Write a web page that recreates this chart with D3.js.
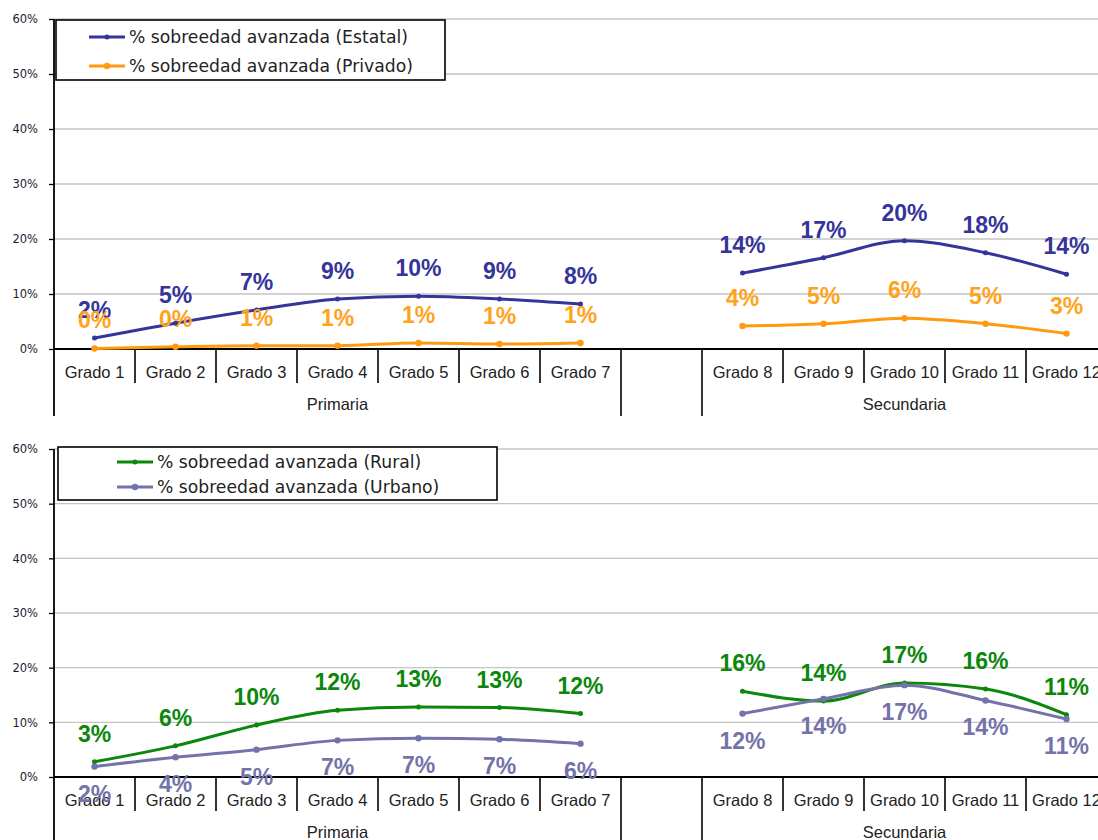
<!DOCTYPE html>
<html>
<head>
<meta charset="utf-8">
<script src="https://cdn.jsdelivr.net/npm/d3@7"></script>
<style>
  html, body { margin: 0; padding: 0; background: #fff; }
  svg { display: block; }
</style>
</head>
<body>
<svg id="chart" width="1098" height="840"></svg>
<script>
// ---------- DATA ----------
const categories = ["Grado 1","Grado 2","Grado 3","Grado 4","Grado 5","Grado 6","Grado 7","",
                    "Grado 8","Grado 9","Grado 10","Grado 11","Grado 12"];
const groupNames = ["Primaria", "", "Secundaria"];
const groupOfCategory = [0,0,0,0,0,0,0,1,2,2,2,2,2];
const yTicks = [0, 10, 20, 30, 40, 50, 60];

const estatal = [2.0, 4.7, 7.1, 9.1, 9.6, 9.1, 8.2, null, 13.8, 16.6, 19.7, 17.5, 13.6];
const privado = [0.1, 0.4, 0.6, 0.6, 1.1, 0.9, 1.1, null, 4.2, 4.6, 5.6, 4.6, 2.8];
const rural   = [2.8, 5.7, 9.5, 12.2, 12.8, 12.7, 11.6, null, 15.7, 13.9, 17.2, 16.1, 11.4];
const urbano  = [1.9, 3.6, 5.0, 6.7, 7.1, 6.9, 6.1, null, 11.6, 14.3, 16.8, 14.0, 10.6];

const seriesNamesTop = ["% sobreedad avanzada (Estatal)", "% sobreedad avanzada (Privado)"];
const seriesNamesBottom = ["% sobreedad avanzada (Rural)", "% sobreedad avanzada (Urbano)"];

// ---------- DRAW ----------
const svg = d3.select("#chart");
const x = d3.scaleBand().domain(categories.map((c, i) => i)).range([54, 1107]).padding(0);

function drawPanel(opt) {
  const g = svg.append("g");
  const y = d3.scaleLinear().domain([0, 60]).range([opt.y0, opt.y1]);

  // gridlines
  g.selectAll("line.grid").data(yTicks.filter(t => t > 0)).join("line")
    .attr("x1", 54).attr("x2", 1107)
    .attr("y1", d => y(d)).attr("y2", d => y(d))
    .attr("stroke", "#c4c4c4").attr("stroke-width", 1.3);

  // y axis
  const yAxis = d3.axisLeft(y).tickValues(yTicks).tickFormat(d => d + "%").tickSize(5).tickSizeOuter(0);
  const ya = g.append("g").attr("transform", "translate(54,0)").call(yAxis);
  ya.select(".domain").remove();
  ya.selectAll(".tick line").attr("stroke", "#000").attr("stroke-width", 1.3);
  ya.selectAll(".tick text").attr("x", -16)
    .attr("font-family", "DejaVu Sans, Verdana, sans-serif").attr("font-size", 11.5)
    .attr("fill", "#1c1c30");
  g.append("line").attr("x1", 54).attr("x2", 54)
    .attr("y1", opt.y1).attr("y2", opt.y0 + 67)
    .attr("stroke", "#000").attr("stroke-width", 1.8);

  // x axis baseline
  g.append("line").attr("x1", 54).attr("x2", 1107)
    .attr("y1", opt.y0).attr("y2", opt.y0)
    .attr("stroke", "#000").attr("stroke-width", 1.8);

  // category separators
  const bounds = d3.range(1, categories.length + 1);
  g.selectAll("line.sep").data(bounds).join("line")
    .attr("x1", i => 54 + i * x.bandwidth()).attr("x2", i => 54 + i * x.bandwidth())
    .attr("y1", opt.y0)
    .attr("y2", i => (i === categories.length || groupOfCategory[i] !== groupOfCategory[i - 1]) ? opt.y0 + 67 : opt.y0 + 34)
    .attr("stroke", "#000").attr("stroke-width", 1.6);

  // category labels
  g.selectAll("text.cat").data(categories).join("text")
    .attr("x", (d, i) => x(i) + x.bandwidth() / 2)
    .attr("y", opt.y0 + 29)
    .attr("text-anchor", "middle")
    .attr("font-family", "Liberation Sans, Arial, sans-serif").attr("font-size", 16.5)
    .attr("fill", "#222").text(d => d);

  // group labels
  groupNames.forEach((name, gi) => {
    const idx = groupOfCategory.map((v, i) => v === gi ? i : -1).filter(i => i >= 0);
    const cx = (x(idx[0]) + x(idx[idx.length - 1]) + x.bandwidth()) / 2;
    g.append("text").attr("x", cx).attr("y", opt.y0 + 61)
      .attr("text-anchor", "middle")
      .attr("font-family", "Liberation Sans, Arial, sans-serif").attr("font-size", 16.5)
      .attr("fill", "#222").text(name);
  });

  // lines
  opt.series.forEach(s => {
    const line = d3.line()
      .defined(d => d != null)
      .x((d, i) => x(i) + x.bandwidth() / 2)
      .y(d => y(d))
      .curve(d3.curveMonotoneX);
    g.append("path").datum(s.values)
      .attr("fill", "none").attr("stroke", s.color).attr("stroke-width", 3)
      .attr("stroke-linejoin", "round")
      .attr("d", line);
    g.selectAll(null).data(s.values.map((v, i) => ({ v, i })).filter(d => d.v != null)).join("circle")
      .attr("cx", d => x(d.i) + x.bandwidth() / 2).attr("cy", d => y(d.v))
      .attr("r", s.r).attr("fill", s.color);
  });

  // data labels (drawn after lines)
  opt.series.forEach(s => {
    g.selectAll(null).data(s.values.map((v, i) => ({ v, i })).filter(d => d.v != null)).join("text")
      .attr("x", d => x(d.i) + x.bandwidth() / 2)
      .attr("y", d => y(d.v) + (s.below ? 35 : -20))
      .attr("text-anchor", "middle")
      .attr("font-family", "Liberation Sans, Arial, sans-serif").attr("font-size", 23)
      .attr("font-weight", "bold")
      .attr("fill", s.labelColor || s.color)
      .text(d => Math.round(d.v) + "%");
  });

  // legend
  const lg = g.append("g");
  lg.append("rect").attr("x", opt.legend.x).attr("y", opt.legend.y)
    .attr("width", opt.legend.w).attr("height", opt.legend.h)
    .attr("fill", "#fff").attr("stroke", "#000").attr("stroke-width", 1.6);
  opt.series.forEach((s, k) => {
    const ly = opt.legend.rows[k];
    lg.append("line").attr("x1", opt.legend.sx).attr("x2", opt.legend.sx + 36)
      .attr("y1", ly).attr("y2", ly).attr("stroke", s.color).attr("stroke-width", 3);
    lg.append("circle").attr("cx", opt.legend.sx + 18).attr("cy", ly).attr("r", s.r).attr("fill", s.color);
    lg.append("text").attr("x", opt.legend.sx + 40).attr("y", ly + 6)
      .attr("font-family", "DejaVu Sans, Verdana, sans-serif").attr("font-size", 17.2)
      .attr("fill", "#222").text(s.name);
  });
}

drawPanel({
  y0: 349, y1: 19,
  series: [
    { name: seriesNamesTop[0], values: estatal, color: "#34349a", r: 2.5, below: false },
    { name: seriesNamesTop[1], values: privado, color: "#ff9a10", labelColor: "#ffa21c", r: 3.2, below: false }
  ],
  legend: { x: 56, y: 20, w: 389, h: 60, sx: 89, rows: [37, 66] }
});

drawPanel({
  y0: 777, y1: 449,
  series: [
    { name: seriesNamesBottom[0], values: rural, color: "#0b870b", r: 2.5, below: false },
    { name: seriesNamesBottom[1], values: urbano, color: "#7373aa", r: 3.2, below: true }
  ],
  legend: { x: 58, y: 447, w: 439, h: 53, sx: 117, rows: [462, 487] }
});
</script>
</body>
</html>
